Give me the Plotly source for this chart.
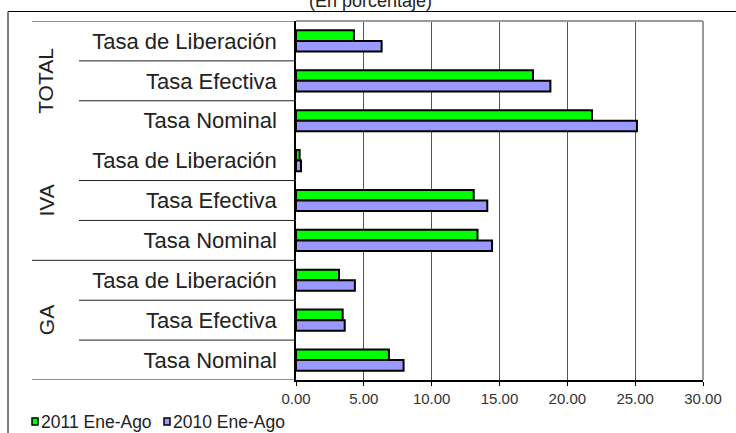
import plotly.graph_objects as go

# ---- data ----
groups = ["TOTAL", "IVA", "GA"]
rates = ["Tasa de Liberación", "Tasa Efectiva", "Tasa Nominal"]
series_names = ["2011 Ene-Ago", "2010 Ene-Ago"]
values_2011 = [4.27, 17.47, 21.82, 0.27, 13.10, 13.38, 3.17, 3.44, 6.85]
values_2010 = [6.31, 18.75, 25.13, 0.37, 14.10, 14.45, 4.34, 3.59, 7.93]
x_ticks = [0, 5, 10, 15, 20, 25, 30]
title_text = "(En porcentaje)"

colors = ["#00FF00", "#9999FF"]
FONT = "Liberation Sans, Arial, sans-serif"

W, H = 736, 433
L, R, T, B = 296, 33, 21, 53
PW = W - L - R
PH = H - T - B


def px_x(p):
    return (p - L) / PW


def px_y(q):
    return (H - B - q) / PH


n_rows = len(groups) * len(rates)
row_labels = [r for g in groups for r in rates]
row_pos = list(range(n_rows))

fig = go.Figure()
for name, vals, col in zip(series_names, [values_2011, values_2010], colors):
    fig.add_trace(go.Bar(
        x=vals, y=row_pos, orientation="h", name=name,
        marker=dict(color=col, line=dict(color="black", width=2)),
        showlegend=False,
    ))

shapes = []
nr = len(rates)
# sub-separators within groups
for gi in range(len(groups)):
    for k in range(1, nr):
        yv = gi * nr + k - 0.5
        shapes.append(dict(type="line", xref="paper", yref="y",
                           x0=px_x(79), x1=0, y0=yv, y1=yv,
                           line=dict(color="#222", width=1)))
# group separators (top, between IVA and GA, bottom)
for yv in [-0.5, 2 * nr - 0.5, 3 * nr - 0.5]:
    shapes.append(dict(type="line", xref="paper", yref="y",
                       x0=px_x(32), x1=0, y0=yv, y1=yv,
                       line=dict(color="#222", width=1)))
# gray top / right plot border
shapes.append(dict(type="line", xref="paper", yref="paper", x0=0, x1=1,
                   y0=1, y1=1, line=dict(color="#999", width=2)))
shapes.append(dict(type="line", xref="paper", yref="paper", x0=1, x1=1,
                   y0=0, y1=1, line=dict(color="#999", width=2)))
# outer frame
shapes.append(dict(type="rect", xref="paper", yref="paper",
                   x0=px_x(8), x1=px_x(760), y0=px_y(460), y1=px_y(11.5),
                   line=dict(color="black", width=1), layer="above"))

annotations = []
for gi, g in enumerate(groups):
    annotations.append(dict(text=g, xref="paper", yref="y", x=px_x(46),
                            xanchor="center", yanchor="middle",
                            y=gi * nr + (nr - 1) / 2, showarrow=False,
                            textangle=-90, font=dict(size=21, color="#222", family=FONT)))
annotations.append(dict(text=title_text, xref="paper", yref="paper",
                        x=px_x(370), xanchor="center", y=px_y(13), yanchor="bottom",
                        showarrow=False, font=dict(size=18, color="#222", family=FONT)))

# custom legend
leg_x = 32
for name, col in zip(series_names, colors):
    shapes.append(dict(type="rect", xref="paper", yref="paper",
                       x0=px_x(leg_x), x1=px_x(leg_x + 6),
                       y0=px_y(425), y1=px_y(418),
                       fillcolor=col, line=dict(color="black", width=1.5)))
    annotations.append(dict(text=name, xref="paper", yref="paper",
                            x=px_x(leg_x + 7), y=px_y(421.5), xanchor="left",
                            yanchor="middle", showarrow=False,
                            font=dict(size=17.5, color="#222", family=FONT)))
    leg_x += 132

fig.update_layout(
    width=W, height=H,
    margin=dict(l=L, r=R, t=T, b=B, pad=0),
    paper_bgcolor="white", plot_bgcolor="white",
    barmode="group", bargap=0.47, bargroupgap=0,
    font=dict(family=FONT, color="#222"),
    shapes=shapes, annotations=annotations,
    xaxis=dict(range=[0, 30], tickvals=x_ticks, tickformat=".2f",
               showgrid=True, gridcolor="#555", gridwidth=1,
               showline=True, linecolor="black", linewidth=1.5,
               ticks="outside", ticklen=4, tickcolor="black",
               zeroline=False, tickfont=dict(size=15, color="#333", family=FONT)),
    yaxis=dict(range=[n_rows - 0.5, -0.5], tickvals=row_pos, ticktext=row_labels,
               showgrid=False, zeroline=False, showline=True,
               linecolor="black", linewidth=1.5, ticks="",
               ticklabelstandoff=13,
               tickfont=dict(size=22, color="#222", family=FONT)),
)

fig.write_html("out.html",
               config={"displayModeBar": False},
               post_script="document.body.style.margin='0px';document.body.style.overflow='hidden';")
